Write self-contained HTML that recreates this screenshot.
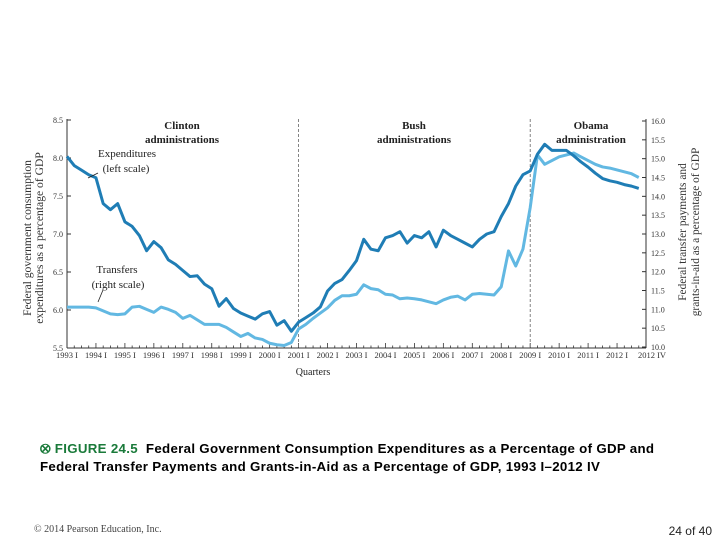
<!DOCTYPE html>
<html><head><meta charset="utf-8"><style>
body{margin:0;width:720px;height:540px;background:#fff;overflow:hidden;position:relative;font-family:"Liberation Sans",sans-serif}
svg text{font-family:"Liberation Serif",serif}
.cap{position:absolute;left:40px;top:440px;font-size:13.3px;font-weight:bold;line-height:18px;color:#000;letter-spacing:0.3px;white-space:nowrap}
</style></head><body>
<svg id="chart" width="720" height="540" style="position:absolute;left:0;top:0"></svg>
<div class="cap"><span style="color:#1a7a3a">&#x2B59; FIGURE 24.5</span>&nbsp; Federal Government Consumption Expenditures as a Percentage of GDP and<br>Federal Transfer Payments and Grants-in-Aid as a Percentage of GDP, 1993 I–2012 IV</div>
<div style="position:absolute;left:34px;top:524px;font-family:'Liberation Serif',serif;font-size:10px;color:#444">© 2014 Pearson Education, Inc.</div>
<div style="position:absolute;right:8px;top:524px;font-size:12px;color:#222">24 of 40</div>
<script>
const years=["1993 I","1994 I","1995 I","1996 I","1997 I","1998 I","1999 I","2000 I","2001 I","2002 I","2003 I","2004 I","2005 I","2006 I","2007 I","2008 I","2009 I","2010 I","2011 I","2012 I"];
const leftTicks=[5.5,6.0,6.5,7.0,7.5,8.0,8.5];
const rightTicks=[10.0,10.5,11.0,11.5,12.0,12.5,13.0,13.5,14.0,14.5,15.0,15.5,16.0];
const expenditures=[8.02,7.9,7.84,7.78,7.74,7.4,7.32,7.4,7.16,7.1,6.98,6.78,6.9,6.82,6.66,6.6,6.52,6.44,6.45,6.34,6.28,6.05,6.15,6.02,5.96,5.92,5.88,5.95,5.98,5.8,5.86,5.72,5.84,5.9,5.96,6.04,6.25,6.35,6.4,6.52,
6.65,6.93,6.8,6.78,6.95,6.98,7.03,6.88,6.98,6.95,7.03,6.83,7.05,6.98,6.93,6.88,6.83,6.93,7.0,7.03,7.23,7.4,7.63,7.78,7.83,8.05,8.18,8.1,8.1,8.1,8.03,7.95,7.88,7.8,7.73,7.7,7.68,7.65,7.63,7.6];
const transfers=[11.06,11.06,11.06,11.06,11.04,10.96,10.88,10.86,10.88,11.06,11.08,11.0,10.92,11.06,11.0,10.92,10.76,10.84,10.72,10.6,10.6,10.6,10.52,10.4,10.28,10.36,10.24,10.2,10.1,10.06,10.04,10.12,10.48,10.6,10.76,10.9,11.04,11.24,11.36,11.36,
11.4,11.65,11.55,11.52,11.4,11.38,11.28,11.3,11.28,11.25,11.2,11.15,11.25,11.32,11.35,11.25,11.4,11.42,11.4,11.38,11.6,12.55,12.15,12.6,13.7,15.1,14.85,14.95,15.05,15.1,15.15,15.05,14.95,14.85,14.78,14.75,14.7,14.65,14.6,14.5];
const dividers=[32,64];
const X0=67,X1=646,NQ=80;
const x=i=>X0+i*(X1-X0)/NQ;
const yL=v=>348-(v-5.5)*(228/3);
const yR=v=>347-(v-10)*(226/6);
const svg=document.getElementById('chart');
const NS='http://www.w3.org/2000/svg';
function mk(t,a,txt){const e=document.createElementNS(NS,t);for(const k in a)e.setAttribute(k,a[k]);if(txt!=null)e.textContent=txt;svg.appendChild(e);return e;}
let e=mk('line',{x1:X0,y1:119,x2:X0,y2:348,stroke:'#333','stroke-width':1});

e=mk('line',{x1:X1,y1:119,x2:X1,y2:348,stroke:'#333','stroke-width':1});

e=mk('line',{x1:X0,y1:348,x2:X1,y2:348,stroke:'#333','stroke-width':1});

leftTicks.forEach(v=>{mk('line',{x1:X0,y1:yL(v),x2:X0+4,y2:yL(v),stroke:'#333'});
e=mk('text',{x:X0-4,y:yL(v)+3,'font-size':8,'text-anchor':'end',fill:'#333'},v.toFixed(1));
});
rightTicks.forEach(v=>{mk('line',{x1:X1,y1:yR(v),x2:X1-4,y2:yR(v),stroke:'#333'});
e=mk('text',{x:X1+5,y:yR(v)+3,'font-size':8,fill:'#333'},v.toFixed(1));
});
for(let i=0;i<=NQ;i++){mk('line',{x1:x(i),y1:348,x2:x(i),y2:i%4==0?343:345.5,stroke:'#333','stroke-width':0.8});}
years.forEach((l,k)=>{e=mk('text',{x:x(k*4),y:358,'font-size':8.5,'text-anchor':'middle',fill:'#333'},l);
});
e=mk('text',{x:X1+6,y:358,'font-size':8.5,'text-anchor':'middle',fill:'#333'},'2012 IV');

dividers.forEach(i=>{e=mk('line',{x1:x(i),y1:119,x2:x(i),y2:348,stroke:'#666','stroke-width':0.8,'stroke-dasharray':'3,2'});
});
e=mk('polyline',{points:transfers.map((v,i)=>x(i)+','+yR(v)).join(' '),fill:'none',stroke:'#62b8e2','stroke-width':3,'stroke-linejoin':'round'});

e=mk('polyline',{points:expenditures.map((v,i)=>x(i)+','+yL(v)).join(' '),fill:'none',stroke:'#1f7db5','stroke-width':3,'stroke-linejoin':'round'});

function lab(txt,xx,yy,opts,name){e=mk('text',Object.assign({x:xx,y:yy,'font-size':11,'text-anchor':'middle',fill:'#222'},opts),txt);}
lab('Clinton',182,129,{'font-weight':'bold'},'clinton-label');lab('administrations',182,143,{'font-weight':'bold'},'clinton-label-2');
lab('Bush',414,129,{'font-weight':'bold'},'bush-label');lab('administrations',414,143,{'font-weight':'bold'},'bush-label-2');
lab('Obama',591,129,{'font-weight':'bold'},'obama-label');lab('administration',591,143,{'font-weight':'bold'},'obama-label-2');
lab('Expenditures',127,157,{'font-size':11},'expenditures-annotation');lab('(left scale)',126,172,{'font-size':11},'expenditures-annotation-2');
lab('Transfers',117,273,{'font-size':11},'transfers-annotation');lab('(right scale)',118,288,{'font-size':11},'transfers-annotation-2');
mk('line',{x1:98,y1:173,x2:88,y2:178,stroke:'#222','stroke-width':0.8});
mk('line',{x1:103,y1:290,x2:98,y2:302,stroke:'#222','stroke-width':0.8});
lab('Quarters',313,375,{'font-size':10},'x-axis-title');
e=mk('text',{transform:'translate(31,238) rotate(-90)','font-size':11.6,'text-anchor':'middle',fill:'#333'},'Federal government consumption');
e=mk('text',{transform:'translate(43,238) rotate(-90)','font-size':11.6,'text-anchor':'middle',fill:'#333'},'expenditures as a percentage of GDP');
e=mk('text',{transform:'translate(686,232) rotate(-90)','font-size':11.4,'text-anchor':'middle',fill:'#333'},'Federal transfer payments and');
e=mk('text',{transform:'translate(699,232) rotate(-90)','font-size':11.4,'text-anchor':'middle',fill:'#333'},'grants-in-aid as a percentage of GDP');
</script>
</body></html>
